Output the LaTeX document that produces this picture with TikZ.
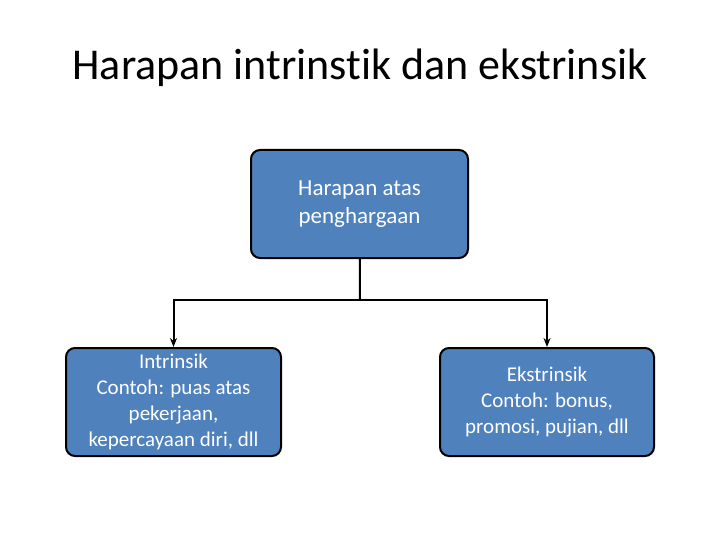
\documentclass[tikz,border=0pt]{standalone}
\usepackage{fontspec}
\setmainfont[Ligatures=NoCommon]{Carlito}
\usepackage{tikz}
\usetikzlibrary{arrows.meta}
\begin{document}
\begin{tikzpicture}[x=1pt,y=-1pt]
  \tikzstyle{box}=[draw=black, line width=2pt, fill={rgb,255:red,79;green,129;blue,189},
    rounded corners=9pt, text=white, align=center, font=\fontsize{23}{28}\selectfont]
  \useasboundingbox (0,0) rectangle (720,540);

  \node (title) at (360,68) {\fontsize{44}{50}\selectfont Harapan intrinstik dan ekstrinsik};

  \node[box, minimum width=217pt, minimum height=108pt] (top) at (359.5,204) {Harapan atas\\penghargaan};
  \node[box, minimum width=215pt, minimum height=108pt, font=\fontsize{21}{26}\selectfont] (left) at (173.5,402) {Intrinsik\\Contoh: puas atas\\pekerjaan,\\kepercayaan diri, dll};
  \node[box, minimum width=214pt, minimum height=108pt, font=\fontsize{21}{26}\selectfont] (right) at (547,402) {Ekstrinsik\\Contoh: bonus,\\promosi, pujian, dll};

  \coordinate (split) at (360,300);
  \begin{scope}[line width=2pt, >={Stealth[length=9pt,width=7pt]}]
    \draw (top) -- (split);
    \draw[->] (split) -| (left);
    \draw[->] (split) -| (right);
  \end{scope}
\end{tikzpicture}
\end{document}
